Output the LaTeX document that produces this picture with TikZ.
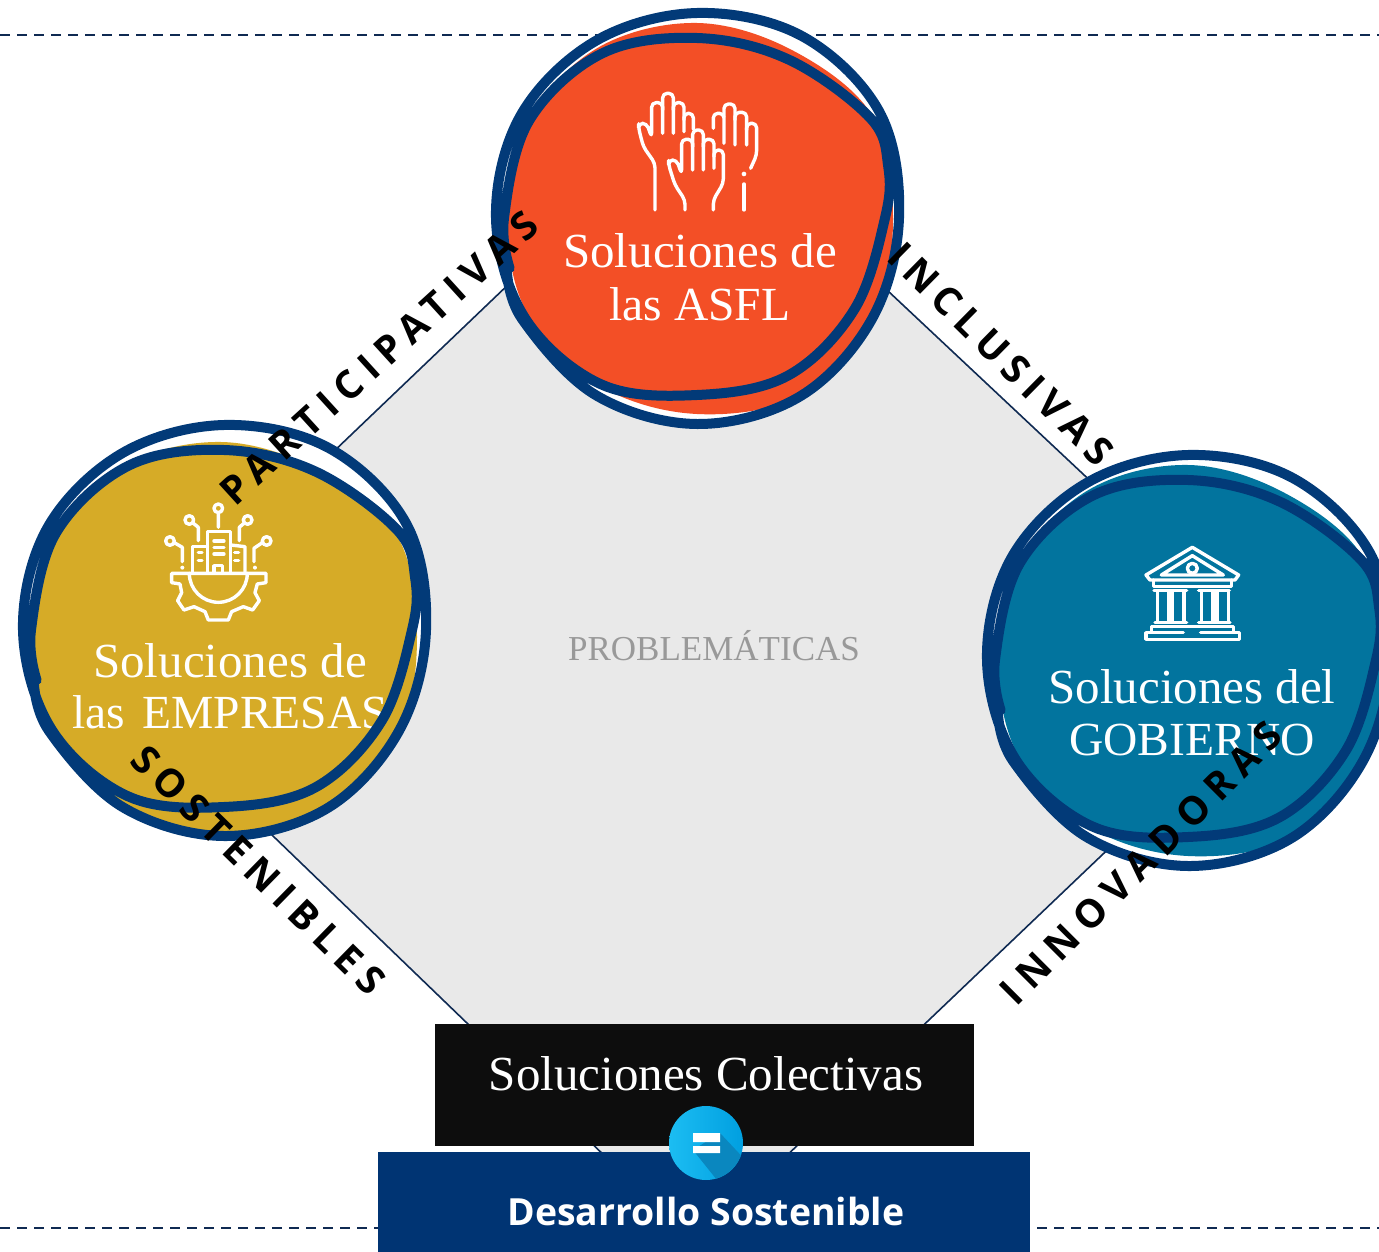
\documentclass[tikz,border=0pt]{standalone}
\usepackage{fontspec}
\setmainfont{Liberation Serif}
\newfontfamily\labelfont{Open Sans}
\usetikzlibrary{calc}
\definecolor{navy}{HTML}{023A78}
\definecolor{edgeNavy}{HTML}{0F2A52}
\definecolor{boxNavy}{HTML}{003473}
\definecolor{orangeFill}{HTML}{F34F26}
\definecolor{goldFill}{HTML}{D6AB27}
\definecolor{tealFill}{HTML}{02749E}
\definecolor{diamondGray}{HTML}{E9E9E9}
\definecolor{badgeL}{HTML}{1CBDF2}
\definecolor{badgeR}{HTML}{009FE0}
\definecolor{badgeS}{HTML}{0A87BF}
\tikzset{
  ringline/.style={draw=navy,line width=10pt,line cap=round,line join=round},
  dashline/.style={draw=edgeNavy,line width=2.2pt,dash pattern=on 10pt off 7pt},
  icon/.style={draw=white,line width=3.4pt,line cap=round,line join=round},
  title/.style={text=white,font=\fontsize{49}{49}\selectfont,anchor=base,inner sep=0pt},
  subtitle/.style={text=white,font=\fontsize{47.5}{47.5}\selectfont,anchor=base,inner sep=0pt},
  slant/.style={text=black,anchor=center,inner sep=0pt},
}
\newcommand\blobfill[5]{%
  \begin{scope}[shift={(#1,#2)}]
    \fill[white] plot[smooth cycle,tension=0.6] coordinates {(0:202)(30:202)(60:206)(90:206)(120:203)(150:205)(180:202)(210:204)(240:204)(270:205)(300:210)(330:211)};
  \end{scope}
  \begin{scope}[shift={(#3,#4)}]
    \fill[#5] plot[smooth cycle,tension=0.6] coordinates {(0:196)(30:203)(60:205)(90:196)(120:194)(150:195)(180:190)(210:195)(240:197)(270:195)(300:193)(330:203)};
  \end{scope}}
\newcommand\blobring[2]{%
  \begin{scope}[shift={(#1,#2)}]
    \draw[ringline] plot[smooth,tension=0.6] coordinates {(165:194)(180:193)(210:194)(240:190)(270:180)(300:183)(330:200)(345:198)(360:188)(390:182)(420:182)(450:177)(480:192)(510:199)(540:201)(570:204)(600:204)(630:205)(660:210)(690:211)(720:202)(750:202)(780:206)(810:206)(840:204)(870:202)(885:197)};
  \end{scope}}
\begin{document}
\begin{tikzpicture}[x=1pt,y=-1pt]
\useasboundingbox (0,0) rectangle (1379,1252);
\fill[white] (0,0) rectangle (1379,1252);
% dashed rules
\draw[dashline] (0,35) -- (1379,35);
\draw[dashline] (0,1228) -- (1379,1228);
% central diamond
\draw[fill=diamondGray,draw=edgeNavy,line width=1.6pt] (693,108) -- (1294,672) -- (695,1243) -- (103,672) -- cycle;
\node[text=black!40,font=\fontsize{35}{35}\selectfont,anchor=base,inner sep=0pt] (prob) at (714,660) {PROBLEMÁTICAS};
% fills
\blobfill{697}{218}{697}{218}{orangeFill}
\blobfill{224}{630}{221}{637}{goldFill}
\blobfill{1188}{660}{1188}{660}{tealFill}
% titles
\node[title] (asflA) at (700,268) {Soluciones de};
\node[subtitle] (asflB) at (700,320) {las ASFL};
\node[title] (empA) at (230,677) {Soluciones de};
\node[subtitle] (empB) at (230,728) {las\hspace{0.12em} EMPRESAS};
\node[title] (gobA) at (1192,703) {Soluciones del};
\node[subtitle] (gobB) at (1192,755) {GOBIERNO};
% hands icon
\begin{scope}[shift={(480,0)},x=0.3333pt,y=-0.3333pt]
  \draw[icon,rounded corners=4.5pt] (525,630)--(525,490)--(490,440)--(476,385)--(476,370)--(500,370)--(515,412)--(515,308)--(548,308)--(548,400);
  \draw[icon,rounded corners=4.5pt] (548,330)--(548,280)--(580,280)--(580,400);
  \draw[icon,rounded corners=4.5pt] (580,330)--(580,308)--(612,308)--(612,395);
  \draw[icon,rounded corners=4.5pt] (612,360)--(612,340)--(640,340)--(640,388);
  \begin{scope}[shift={(90,110)}]
    \draw[icon,rounded corners=4.5pt] (525,520)--(525,490)--(495,445)--(476,385)--(476,370)--(500,370)--(515,412)--(515,308)--(548,308)--(548,400);
    \draw[icon,rounded corners=4.5pt] (548,330)--(548,280)--(580,280)--(580,400);
    \draw[icon,rounded corners=4.5pt] (580,330)--(580,308)--(612,308)--(612,395);
    \draw[icon,rounded corners=4.5pt] (612,360)--(612,340)--(640,340)--(640,440)--(610,490)--(610,520);
  \end{scope}
  \draw[icon,rounded corners=4.5pt] (700,385)--(700,340)--(732,340)--(732,430);
  \draw[icon,rounded corners=4.5pt] (732,350)--(732,312)--(765,312)--(765,435);
  \draw[icon,rounded corners=4.5pt] (765,360)--(765,337)--(800,337)--(800,435);
  \draw[icon,rounded corners=4.5pt] (800,390)--(800,370)--(830,370)--(830,465)--(812,505);
  \fill[white] (792,522) circle (7);
  \draw[icon] (792,552)--(792,630);
\end{scope}
% enterprise icon
\begin{scope}[shift={(0,410)},x=0.3333pt,y=-0.3333pt]
  \draw[icon] (515,490)--(798,490)--(798,518)--(772,522)--(765,548)--(778,572)--(758,600)--(730,590)--(695,605)--(685,630)--(625,630)--(615,605)--(582,590)--(552,600)--(533,572)--(545,548)--(540,522)--(515,518)--cycle;
  \draw[icon] (568,490) arc[start angle=180,end angle=0,radius=87];
  \draw[icon] (578,488)--(578,410)--(622,410);
  \draw[icon] (622,488)--(622,365)--(692,365)--(692,488);
  \draw[icon] (692,405)--(735,410)--(735,488);
  \draw[icon] (642,393)--(672,393) (642,412)--(672,412) (642,432)--(672,432);
  \draw[icon] (642,488)--(642,467)--(668,467)--(668,488);
  \draw[icon] (595,428)--(606,428) (595,452)--(606,452) (704,428)--(716,428) (704,452)--(716,452);
  \draw[icon] (655,352)--(655,308) (655,295) circle (13);
  \draw[icon] (595,392)--(595,352)--(578,338) (568,330) circle (13);
  \draw[icon] (718,392)--(718,352)--(734,338) (743,330) circle (13);
  \draw[icon] (547,455)--(547,412)--(523,398) (510,393) circle (13);
  \draw[icon] (762,455)--(762,415)--(787,398) (800,393) circle (13);
  \fill[white] (547,473) circle (6) (765,473) circle (6);
\end{scope}
% government icon
\begin{scope}[shift={(970,440)},x=0.3333pt,y=-0.3333pt]
  \draw[icon] (667,322)--(806,405)--(795,420)--(540,420)--(528,405)--cycle;
  \draw[icon] (667,347)--(760,405)--(574,405)--cycle;
  \draw[icon] (667,385) circle (15);
  \draw[icon] (550,420)--(550,440)--(785,440)--(785,420);
  \draw[icon] (552,452)--(650,452) (686,452)--(778,452);
  \draw[icon] (562,455)--(562,545) (597,455)--(597,545) (607,455)--(607,545) (642,455)--(642,545);
  \draw[icon] (694,455)--(694,545) (729,455)--(729,545) (741,455)--(741,545) (776,455)--(776,545);
  \draw[icon] (555,548)--(650,548) (686,548)--(780,548);
  \draw[icon] (545,575)--(545,560)--(790,560)--(790,575);
  \draw[icon] (640,578)--(528,578)--(528,598)--(808,598)--(808,578)--(692,578);
\end{scope}
% rings
\blobring{697}{218}
\blobring{224}{630}
\blobring{1188}{660}
% boxes
\fill[black!95!white] (435,1024) rectangle (974,1146);
\node[title] (colect) at (706,1090) {Soluciones Colectivas};
\fill[boxNavy] (378,1152) rectangle (1030,1252);
\node[text=white,font=\labelfont\bfseries\fontsize{37.4}{37.4}\selectfont,anchor=base,inner sep=0pt] (desar) at (706,1225) {Desarrollo Sostenible};
% equals badge
\shade[left color=badgeL,right color=badgeR] (706,1143) circle (37);
\begin{scope}
  \clip (706,1143) circle (37);
  \fill[badgeS] (693,1150) -- (720,1133) -- (750,1165) -- (725,1190) -- cycle;
\end{scope}
\fill[white] (693,1133) rectangle (720,1142) (693,1146) rectangle (720,1153);
% slanted labels
\node[slant,rotate=42.3] (lpart) at (379,358) {\labelfont\addfontfeature{LetterSpace=22}\bfseries\fontsize{39}{39}\selectfont PARTICIPATIVAS};
\node[slant,rotate=-44.6] (lincl) at (1001,354) {\labelfont\addfontfeature{LetterSpace=20}\bfseries\fontsize{39}{39}\selectfont INCLUSIVAS};
\node[slant,rotate=-44.4] (lsost) at (258,870) {\labelfont\addfontfeature{LetterSpace=21}\bfseries\fontsize{39}{39}\selectfont SOSTENIBLES};
\node[slant,rotate=45] (linno) at (1141,863) {\labelfont\addfontfeature{LetterSpace=22.5}\bfseries\fontsize{39}{39}\selectfont INNOVADORAS};
\end{tikzpicture}
\end{document}
